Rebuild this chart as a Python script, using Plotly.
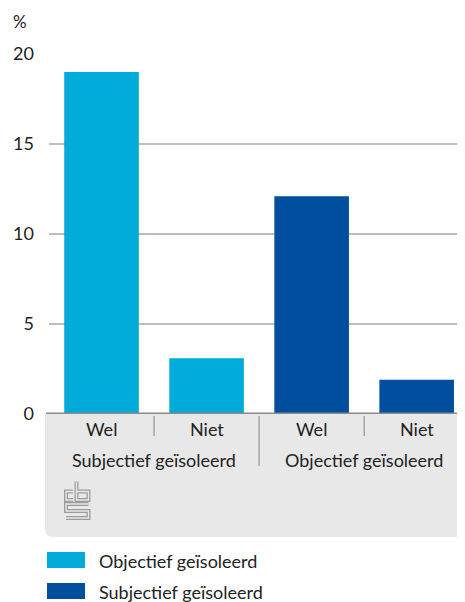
import plotly.graph_objects as go

# ---- data ----
groups = ["Subjectief geïsoleerd", "Objectief geïsoleerd"]
answers = ["Wel", "Niet"]
subj_values = [19.0, 3.1]
obj_values = [12.1, 1.9]
legend_labels = ["Objectief geïsoleerd", "Subjectief geïsoleerd"]
y_ticks = [0, 5, 10, 15, 20]

LIGHT = "#00aad9"
DARK = "#004f9e"
TXT = "#222222"
FONT = "Lato"
FS = 18

# page body has an 8px margin; figure sized to fit the 465x602 window
OFF = 8
W, H = 465 - OFF, 602 - OFF
L, T = 49 - OFF, 54 - OFF
PW, PH = W - L, 360
B = H - T - PH


def px(x):
    # window pixel x -> paper x
    return (x - OFF - L) / PW


def py(y):
    # window pixel y -> paper y
    return (T + PH - (y - OFF)) / PH


fig = go.Figure()
fig.add_trace(go.Bar(x=[0, 1], y=subj_values, marker=dict(color=LIGHT, line=dict(width=0)),
                     width=0.71, showlegend=False, hoverinfo="y"))
fig.add_trace(go.Bar(x=[2, 3], y=obj_values, marker=dict(color=DARK, line=dict(width=0)),
                     width=0.71, showlegend=False, hoverinfo="y"))

shapes = []
# grey label area with rounded bottom-left corner
x0, x1, y0, y1, r = 45, 465, 414, 537, 8
path = (f"M {px(x0)},{py(y0)} L {px(x1)},{py(y0)} L {px(x1)},{py(y1)} "
        f"L {px(x0 + r)},{py(y1)} Q {px(x0)},{py(y1)} {px(x0)},{py(y1 - r)} Z")
shapes.append(dict(type="path", xref="paper", yref="paper", path=path,
                   fillcolor="#e8e8e8", line=dict(width=0), layer="below"))
# baseline
shapes.append(dict(type="line", xref="paper", yref="y", x0=px(46), x1=1, y0=0, y1=0,
                   line=dict(color="#8a8a8a", width=3)))
# dividers
for xv in [0.5, 2.5]:
    shapes.append(dict(type="line", xref="x", yref="paper", x0=xv, x1=xv,
                       y0=py(416), y1=py(436), line=dict(color="#9a9a9a", width=1.3)))
shapes.append(dict(type="line", xref="x", yref="paper", x0=1.5, x1=1.5,
                   y0=py(416), y1=py(466), line=dict(color="#9a9a9a", width=1.3)))

# CBS logo (outlined strokes)
logo_paths = [
    [(73, 491.5), (66, 491.5), (66, 500), (73, 500)],
    [(76.5, 481.5), (76.5, 500), (88.5, 500), (88.5, 491.5), (76.5, 491.5)],
    [(88.5, 504), (66, 504), (66, 511), (88.5, 511), (88.5, 518), (66, 518)],
]
for pts in logo_paths:
    d = "M " + " L ".join(f"{px(a)},{py(b)}" for a, b in pts)
    shapes.append(dict(type="path", xref="paper", yref="paper", path=d,
                       line=dict(color="#9c9c9c", width=4)))
    shapes.append(dict(type="path", xref="paper", yref="paper", path=d,
                       line=dict(color="#e8e8e8", width=1.4)))

# manual legend swatches
for i, col in enumerate([LIGHT, DARK]):
    top = 552 + i * 31
    shapes.append(dict(type="rect", xref="paper", yref="paper",
                       x0=px(47), x1=px(85), y0=py(top), y1=py(top + 16),
                       fillcolor=col, line=dict(width=0)))

annotations = []
# inner labels
for i in range(4):
    annotations.append(dict(x=i, y=py(429), xref="x", yref="paper", text=answers[i % 2],
                            showarrow=False, xanchor="center", yanchor="middle",
                            font=dict(family=FONT, size=FS, color=TXT)))
for g, name in enumerate(groups):
    annotations.append(dict(x=2 * g + 0.5, y=py(460), xref="x", yref="paper", text=name,
                            showarrow=False, xanchor="center", yanchor="middle",
                            font=dict(family=FONT, size=FS, color=TXT)))
for i, lab in enumerate(legend_labels):
    annotations.append(dict(x=px(97), y=py(561 + i * 31), xref="paper", yref="paper", text=lab,
                            showarrow=False, xanchor="left", yanchor="middle",
                            font=dict(family=FONT, size=FS, color=TXT)))
annotations.append(dict(x=px(11), y=py(21), xref="paper", yref="paper", text="%",
                        showarrow=False, xanchor="left", yanchor="middle",
                        font=dict(family=FONT, size=17, color=TXT)))

fig.update_layout(
    width=W, height=H,
    margin=dict(l=L, r=0, t=T, b=B, pad=0),
    paper_bgcolor="white", plot_bgcolor="white",
    barmode="overlay",
    shapes=shapes, annotations=annotations,
    xaxis=dict(range=[-0.5, 3.46], showticklabels=False, showgrid=False,
               zeroline=False, showline=False, fixedrange=True),
    yaxis=dict(range=[0, 20], tickvals=y_ticks, showgrid=True, gridcolor="#bdbdbd",
               gridwidth=1.5, zeroline=False, showline=False, ticklabelstandoff=14,
               tickfont=dict(family=FONT, size=FS, color=TXT), fixedrange=True),
    font=dict(family=FONT),
)

fig.write_html("out.html")
